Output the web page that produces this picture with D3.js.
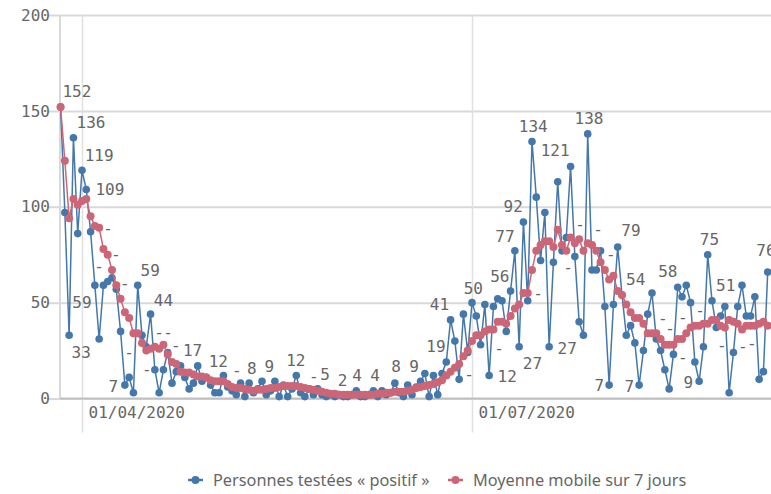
<!DOCTYPE html>
<meta charset="utf-8">
<style>
body { margin: 0; background: #fff; }
.num { font-family: "DejaVu Sans Mono", monospace; font-size: 16px; fill: #666; }
.legend text { font-family: "Noto Sans", sans-serif; font-size: 16.3px; fill: #666; }
</style>
<script src="https://d3js.org/d3.v7.min.js"></script>
<div id="chart"></div>
<script>
// daily series, starting 27/03/2020
var startDay = Date.UTC(2020, 2, 27);
var positifs = [152, 97, 33, 136, 86, 119, 109, 87, 59, 31,
  59, 61, 63, 57, 35, 7, 11, 3, 59, 33,
  27, 44, 15, 3, 15, 24, 8, 14, 17, 11,
  5, 8, 17, 9, 11, 7, 3, 3, 12, 6,
  4, 2, 8, 1, 8, 3, 5, 9, 2, 4,
  9, 1, 7, 1, 5, 12, 3, 1, 5, 2,
  5, 2, 1, 2, 1, 2, 1, 1, 2, 4,
  1, 1, 2, 4, 1, 4, 2, 3, 8, 3,
  1, 7, 2, 6, 9, 13, 1, 12, 2, 13,
  19, 41, 30, 10, 44, 24, 50, 43, 28, 49,
  12, 48, 52, 51, 35, 56, 77, 27, 92, 51,
  134, 105, 72, 97, 27, 71, 113, 77, 84, 121,
  74, 40, 33, 138, 67, 67, 77, 48, 7, 49,
  79, 54, 33, 38, 29, 7, 25, 44, 55, 31,
  25, 15, 5, 23, 58, 53, 59, 50, 19, 9,
  27, 75, 51, 37, 43, 48, 3, 24, 48, 59,
  43, 43, 53, 10, 14, 66];
var moyenne = [152, 124, 94, 104, 101, 103, 104, 95, 90, 89,
  78, 75, 67, 59, 52, 45, 42, 34, 34, 29,
  25, 26, 27, 26, 28, 23, 19, 18, 14, 13.5,
  13.5, 12.5, 11.5, 11.5, 11, 9.5, 9, 9, 9, 7.5,
  6, 5.5, 5.5, 5, 4.5, 4, 4.5, 4.5, 5, 5.5,
  5.5, 6, 6.5, 6.5, 6.5, 6.5, 6, 5.5, 5, 4.5,
  4, 3.5, 3, 2.5, 2.5, 2, 2, 2, 2, 2,
  2, 2, 2, 2, 2.5, 2.5, 3, 3, 3.5, 3.5,
  3.5, 4, 4.5, 5.5, 6, 6.5, 7, 7.5, 8.5, 9.5,
  12, 14, 16, 18, 22, 25, 30, 33, 33, 35,
  36, 36, 40, 40, 39, 43, 47, 49, 55, 55,
  67, 77, 80, 82, 82, 79, 88, 80, 77, 84,
  81, 83, 77, 81, 80, 77, 71, 67, 62, 64,
  56, 54, 49, 45, 42, 42, 39, 34, 34, 34,
  31, 28, 28, 28, 31, 31, 34, 37, 38, 38,
  39, 39, 41, 41, 38, 37, 41, 40, 39, 36,
  38, 38, 38, 39, 40, 38];
var yTicks = [0, 50, 100, 150, 200];
var xTicks = [Date.UTC(2020, 3, 1), Date.UTC(2020, 6, 1)];

// value labels: day offset, level, text
var labelDays = [3.8, 7.1, 9.0, 11.5, 5.0, 4.8, 12.3, 20.9, 24.0, 30.8,
  36.8, 44.6, 48.7, 54.9, 61.7, 65.8, 69.2, 73.4, 78.3, 82.5,
  87.6, 88.4, 96.3, 102.5, 103.7, 105.6, 110.3, 115.4, 123.3, 104.2,
  110.1, 118.2, 125.7, 133.1, 134.2, 132.7, 141.7, 146.5, 151.4, 155.2, 164.6];
var labelVals = [160, 144, 127, 109, 50, 24, 6.2, 67, 51, 25,
  19.2, 15.7, 16.6, 20.1, 12.6, 9.6, 12.3, 12.3, 16.6, 17,
  27, 49.3, 57.5, 63.9, 84.7, 100.4, 141.7, 129.2, 146.1, 11.7,
  18.4, 26.2, 7, 87.9, 62.2, 6.5, 66.1, 8.2, 83, 59.2, 77.4];
var labelTexts = ["152", "136", "119", "109", "59", "33", "7", "59", "44", "17",
  "12", "8", "9", "12", "5", "2", "4", "4", "8", "9",
  "19", "41", "50", "56", "77", "92", "134", "121", "138", "12",
  "27", "27", "7", "79", "54", "7", "58", "9", "75", "51", "76"];
var dashDays = [11.1, 12.9, 9.0, 15.0, 16.0, 20.1, 23.0, 25.1, 26.9, 41.1,
  59.1, 95.3, 102.3, 111.4, 118.4, 121.2, 125.4, 128.4, 140.5, 142.2,
  145.2, 145.2, 149.2, 154.3, 159.2, 161.3];
var dashVals = [88.9, 75.4, 68.8, 60.2, 24.3, 15.4, 34.7, 34.7, 27.5, 14.9,
  11.7, 12.8, 26.3, 55.0, 68.6, 91.0, 88.0, 75.0, 42.0, 36.8,
  42.5, 21.6, 46.2, 27.9, 27.4, 28.9];

var W = 771, H = 494;
var blue = "#4477aa", red = "#cc6677";
var dayMs = 86400000;

var svg = d3.select("#chart").append("svg")
  .attr("width", W).attr("height", H);

var x = d3.scaleUtc()
  .domain(xTicks)
  .range([82, 472]);
var y = d3.scaleLinear()
  .domain([0, 200])
  .range([398.5, 15]);

function dateOf(d) { return new Date(startDay + d * dayMs); }

// horizontal grid + y labels
svg.append("g")
  .attr("transform", "translate(60,0)")
  .call(d3.axisLeft(y).tickValues(yTicks).tickSize(-(W - 60)).tickPadding(10))
  .call(function(g) {
    g.select(".domain").remove();
    g.selectAll(".tick line").attr("x1", -13).attr("stroke", "#d9d9d9").attr("stroke-width", 2);
    g.selectAll(".tick text").attr("class", "num").attr("font-family", null).attr("font-size", null).attr("fill", null);
  });

// vertical grid + date labels
svg.append("g")
  .attr("transform", "translate(0,398.5)")
  .call(d3.axisBottom(x).tickValues(xTicks.map(function(t) { return new Date(t); }))
    .tickFormat(d3.utcFormat("%d/%m/%Y")).tickSize(0))
  .call(function(g) {
    g.select(".domain").remove();
    g.selectAll(".tick line").attr("y1", -383.5).attr("y2", 34).attr("stroke", "#e0e0e0").attr("stroke-width", 1.5);
    g.selectAll(".tick text").attr("class", "num").attr("font-family", null).attr("font-size", null).attr("fill", null)
      .attr("text-anchor", "start").attr("x", 6).attr("dy", null).attr("y", 19);
  });

// left axis line and baseline
svg.append("line").attr("x1", 60).attr("x2", 60).attr("y1", 15).attr("y2", 398.5)
  .attr("stroke", "#d9d9d9").attr("stroke-width", 2);
svg.append("line").attr("x1", 60).attr("x2", W).attr("y1", y(0)).attr("y2", y(0))
  .attr("stroke", "#bfbfbf").attr("stroke-width", 2);

function drawSeries(values, color, r) {
  var line = d3.line()
    .x(function(d, i) { return x(dateOf(i)); })
    .y(function(d) { return y(d); });
  svg.append("path").datum(values)
    .attr("fill", "none").attr("stroke", color).attr("stroke-width", 1.5)
    .attr("d", line);
  svg.append("g").selectAll("circle").data(values).enter().append("circle")
    .attr("cx", function(d, i) { return x(dateOf(i)); })
    .attr("cy", function(d) { return y(d); })
    .attr("r", r)
    .attr("fill", color);
}
drawSeries(positifs, blue, 3.8);
drawSeries(moyenne, red, 4);

// value labels
svg.append("g").selectAll("text").data(labelTexts).enter().append("text")
  .attr("class", "num")
  .attr("x", function(d, i) { return x(dateOf(labelDays[i])); })
  .attr("y", function(d, i) { return y(labelVals[i]); })
  .attr("dy", "0.35em")
  .attr("text-anchor", "middle")
  .text(function(d) { return d; });
svg.append("g").selectAll("text").data(dashDays).enter().append("text")
  .attr("class", "num")
  .attr("x", function(d) { return x(dateOf(d)); })
  .attr("y", function(d, i) { return y(dashVals[i]); })
  .attr("dy", "0.35em")
  .attr("text-anchor", "middle")
  .text("-");

// legend
var legend = svg.append("g").attr("class", "legend");
var items = [{name: "Personnes testées « positif »", color: blue, x: 188},
             {name: "Moyenne mobile sur 7 jours", color: red, x: 448}];
items.forEach(function(it) {
  var g = legend.append("g").attr("transform", "translate(" + it.x + ",480)");
  g.append("line").attr("x1", 0).attr("x2", 15).attr("stroke", it.color).attr("stroke-width", 2.5);
  g.append("circle").attr("cx", 7.5).attr("r", 4).attr("fill", it.color);
  g.append("text").attr("x", 25).attr("dy", "0.35em").text(it.name);
});
</script>
